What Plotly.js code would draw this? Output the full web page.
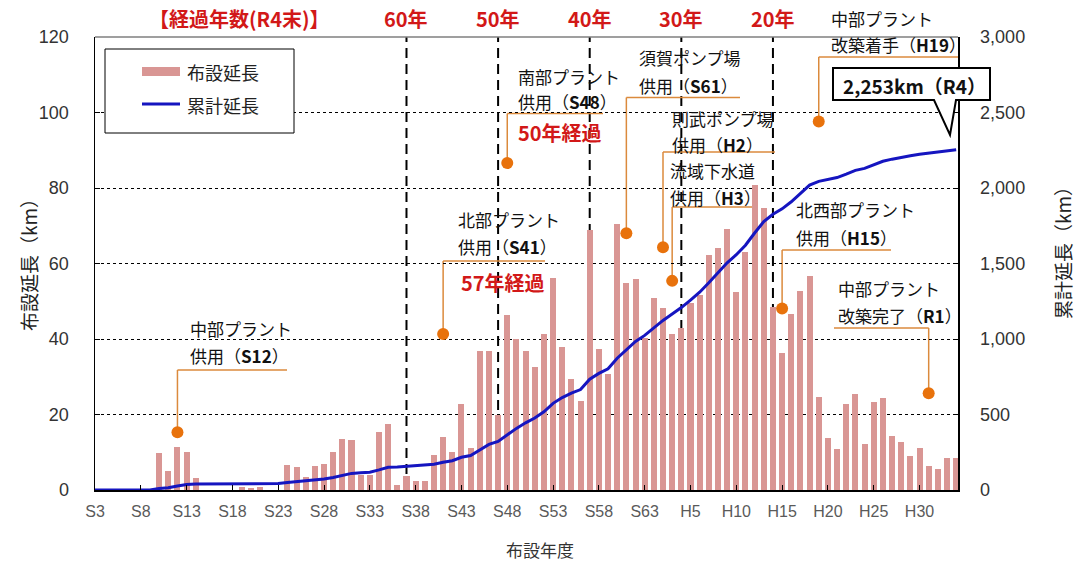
<!DOCTYPE html>
<html>
<head>
<meta charset="utf-8">
<script src="https://cdn.plot.ly/plotly-3.0.1.min.js"></script>
<style>html,body{margin:0;padding:0;background:#fff;}#chart{width:1077px;height:564px;}</style>
</head>
<body>
<div id="chart"></div>
<script>
// ---- data ----
const years = [];
for (let y = 1928; y <= 2022; y++) years.push(y);

// 布設延長 (km) per fiscal year, S3 (1928) ... R4 (2022)
const layLength = [
  0, 0, 0, 0, 0, 0, 0,            // S3-S9
  9.8, 5.0, 11.5, 10.2, 3.2,      // S10-S14
  0, 0, 0, 0, 0.9, 0.5, 0.9, 0, 0, // S15-S23
  6.5, 6.1, 3.4, 6.3, 6.9, 10.0, 13.6, 13.3, 3.9, 4.0, // S24-S33
  15.4, 17.5, 1.4, 3.8, 2.4, 2.4, 9.3, 14.0, 10.1, 22.8, // S34-S43
  11.0, 36.7, 36.7, 19.8, 46.3, 40.0, 36.7, 32.5, 41.2, 56.1, // S44-S53
  38.0, 29.3, 23.5, 68.9, 37.4, 30.6, 70.5, 54.8, 55.8, 40.3, // S54-S63
  50.9, 48.3, 41.3, 42.9, 49.5, 51.7, 62.3, 64.0, 69.1, 52.4, // H1-H10
  63.1, 80.8, 74.8, 48.4, 36.4, 46.6, 52.6, 56.7, 24.7, 13.9, // H11-H20
  10.9, 22.8, 25.4, 12.3, 23.2, 24.3, 14.2, 12.6, 9.1, 11.2, // H21-H30
  6.4, 5.5, 8.5, 8.6                                          // R1-R4
];

// 累計延長 (km)
const cumLength = [
  0, 0, 0, 0, 0, 0, 0,
  10, 15, 27, 37, 40,
  40, 40, 40, 40, 41, 42, 43, 43, 43,
  50, 56, 59, 66, 73, 83, 96, 110, 114, 118,
  133, 151, 152, 156, 158, 161, 170, 184, 194, 217,
  228, 265, 302, 322, 368, 408, 445, 477, 518, 574,
  612, 642, 665, 734, 772, 803, 873, 928, 984, 1024,
  1075, 1123, 1165, 1208, 1258, 1310, 1372, 1436, 1505, 1558,
  1621, 1702, 1777, 1826, 1862, 1909, 1962, 2019, 2044, 2058,
  2069, 2092, 2117, 2130, 2153, 2177, 2191, 2204, 2213, 2224,
  2231, 2236, 2245, 2253
];

const tickYears = [1928,1933,1938,1943,1948,1953,1958,1963,1968,1973,1978,1983,1988,1993,1998,2003,2008,2013,2018];
const tickLabels = ['S3','S8','S13','S18','S23','S28','S33','S38','S43','S48','S53','S58','S63','H5','H10','H15','H20','H25','H30'];

// elapsed-years reference lines (R4末)
const elapsedYears = [1962, 1972, 1982, 1992, 2002];
const elapsedLabels = ['60年', '50年', '40年', '30年', '20年'];

// events
const eventYears = [1937, 1966, 1973, 1986, 1990, 1991, 2003, 2007, 2019];
const eventDotY  = [15.3, 41.3, 86.6, 68.0, 64.3, 55.4, 48.1, 97.6, 25.6];
const eventLine1 = ['中部プラント','北部プラント','南部プラント','須賀ポンプ場','則武ポンプ場','流域下水道','北西部プラント','中部プラント','中部プラント'];
const eventLine2 = ['供用（<b>S12</b>）','供用（<b>S41</b>）','供用（<b>S48</b>）','供用（<b>S61</b>）','供用（<b>H2</b>）','供用（<b>H3</b>）','供用（<b>H15</b>）','改築着手（<b>H19</b>）','改築完了（<b>R1</b>）'];

// ---- geometry helpers (layout only) ----
const L = 95, R = 958, T = 37, B = 490, W = 1077, H = 564;
const X0 = 1928, X1 = 2022.2;
const PX = x => (x - L) / (R - L);
const PY = y => (B - y) / (B - T);
const yrPx = yr => L + (yr - X0) / (X1 - X0) * (R - L);

// label layout per event: [textLeft, line1Y, line2Y, hLineY, hLineEnd]
const evLayout = [
  [188, 328, 355, 370, 287],
  [456, 219, 246, 261, 545],
  [516, 76, 102, 113.5, 603],
  [637, 57, 85, 97.5, 740],
  [670, 118, 144, 152, 775],
  [668, 171, 197, 207, 755],
  [794, 210, 237, 250, 891],
  [829, 18, 45, 57, 958],
  [836, 288, 315, 328, 834]
];

const ORANGE = '#E8720C';
const LEAD = '#DB8A3C';
const RED = '#D21818';
const JP = 'Noto Sans CJK JP';

const shapes = [];
const annotations = [];

// top border
shapes.push({type:'line', xref:'paper', yref:'paper', x0:0, x1:1, y0:1, y1:1, line:{color:'#7f7f7f', width:1.5}, layer:'above'});

// elapsed dashed lines + labels
elapsedYears.forEach((yr, i) => {
  shapes.push({type:'line', xref:'x', yref:'paper', x0:yr, x1:yr, y0:0, y1:1,
    line:{color:'#000', width:2, dash:'10px,6px'}, layer:'below'});
  annotations.push({xref:'x', yref:'paper', x:yr, y:PY(18), text:'<b>'+elapsedLabels[i]+'</b>',
    showarrow:false, xanchor:'center', yanchor:'middle', font:{family:JP, size:20, color:RED}});
});
annotations.push({xref:'paper', yref:'paper', x:PX(239), y:PY(18), text:'<b>【経過年数(R4末)】</b>',
  showarrow:false, xanchor:'center', yanchor:'middle', font:{family:JP, size:20, color:RED}});

// event leaders & labels
eventYears.forEach((yr, i) => {
  const [tx, y1, y2, hy, hend] = evLayout[i];
  const dotPxY = B - eventDotY[i] / 120 * (B - T);
  const dx = yrPx(yr);
  shapes.push({type:'line', xref:'paper', yref:'paper', x0:PX(dx), x1:PX(dx), y0:PY(dotPxY), y1:PY(hy),
    line:{color:LEAD, width:1.5}, layer:'below'});
  shapes.push({type:'line', xref:'paper', yref:'paper', x0:PX(dx), x1:PX(hend), y0:PY(hy), y1:PY(hy),
    line:{color:LEAD, width:1.5}, layer:'below'});
  annotations.push({xref:'paper', yref:'paper', x:PX(tx), y:PY(y1), text:eventLine1[i], showarrow:false,
    xanchor:'left', yanchor:'middle', font:{family:JP, size:17, color:'#111'}});
  annotations.push({xref:'paper', yref:'paper', x:PX(tx), y:PY(y2), text:eventLine2[i], showarrow:false,
    xanchor:'left', yanchor:'middle', font:{family:JP, size:17, color:'#111'}});
});

// elapsed notes
annotations.push({xref:'paper', yref:'paper', x:PX(459), y:PY(282), text:'<b>57年経過</b>', showarrow:false,
  xanchor:'left', yanchor:'middle', font:{family:JP, size:20, color:RED}});
annotations.push({xref:'paper', yref:'paper', x:PX(516), y:PY(132), text:'<b>50年経過</b>', showarrow:false,
  xanchor:'left', yanchor:'middle', font:{family:JP, size:20, color:RED}});

// callout
const cp = [[833,68],[990,68],[990,100],[956,100],[950,135],[934,100],[833,100]];
shapes.push({type:'path', xref:'paper', yref:'paper',
  path: 'M ' + cp.map(p => PX(p[0]) + ',' + PY(p[1])).join(' L ') + ' Z',
  fillcolor:'#fff', line:{color:'#000', width:2}, layer:'above'});
annotations.push({xref:'paper', yref:'paper', x:PX(914), y:PY(85), text:'<b>2,253km（R4）</b>', showarrow:false,
  xanchor:'center', yanchor:'middle', font:{family:JP, size:19, color:'#111'}});

// legend (drawn)
shapes.push({type:'rect', xref:'paper', yref:'paper', x0:PX(105), x1:PX(294), y0:PY(49), y1:PY(133),
  fillcolor:'#fff', line:{color:'#000', width:1}, layer:'above'});
shapes.push({type:'rect', xref:'paper', yref:'paper', x0:PX(142), x1:PX(180), y0:PY(67), y1:PY(76),
  fillcolor:'#D99694', line:{width:0}, layer:'above'});
shapes.push({type:'line', xref:'paper', yref:'paper', x0:PX(142), x1:PX(180), y0:PY(104), y1:PY(104),
  line:{color:'#1515C0', width:3}, layer:'above'});
annotations.push({xref:'paper', yref:'paper', x:PX(185), y:PY(72), text:'布設延長', showarrow:false,
  xanchor:'left', yanchor:'middle', font:{family:JP, size:18, color:'#222'}});
annotations.push({xref:'paper', yref:'paper', x:PX(185), y:PY(105), text:'累計延長', showarrow:false,
  xanchor:'left', yanchor:'middle', font:{family:JP, size:18, color:'#222'}});

// axis titles
annotations.push({xref:'paper', yref:'paper', x:PX(28), y:PY(260), text:'布設延長（km）', textangle:-90, showarrow:false,
  xanchor:'center', yanchor:'middle', font:{family:JP, size:19, color:'#222'}});
annotations.push({xref:'paper', yref:'paper', x:PX(1062), y:PY(248), text:'累計延長（km）', textangle:-90, showarrow:false,
  xanchor:'center', yanchor:'middle', font:{family:JP, size:19, color:'#222'}});
annotations.push({xref:'paper', yref:'paper', x:PX(540), y:PY(549), text:'布設年度', showarrow:false,
  xanchor:'center', yanchor:'middle', font:{family:JP, size:17, color:'#333'}});

const traces = [
  {type:'bar', x:years, y:layLength, name:'布設延長', marker:{color:'#D99694'}, width:0.66, hoverinfo:'skip'},
  {type:'scatter', mode:'lines', x:years, y:cumLength, yaxis:'y2', name:'累計延長',
    line:{color:'#1515C0', width:3}, hoverinfo:'skip'},
  {type:'scatter', mode:'markers', x:eventYears, y:eventDotY, marker:{color:ORANGE, size:12}, hoverinfo:'skip'}
];

const layout = {
  width:W, height:H,
  margin:{l:L, r:W-R, t:T, b:H-B, pad:0},
  paper_bgcolor:'#fff', plot_bgcolor:'#fff',
  showlegend:false,
  font:{family:JP},
  bargap:0,
  xaxis:{range:[X0, X1], tickmode:'array', tickvals:tickYears, ticktext:tickLabels,
    ticks:'inside', ticklen:5, tickcolor:'#000', showline:true, linecolor:'#000', linewidth:1.5,
    showgrid:false, zeroline:false, ticklabelstandoff:6,
    tickfont:{family:'Liberation Sans', size:16, color:'#5a5a5a'}},
  yaxis:{range:[0,120], dtick:20, tick0:0, ticks:'inside', ticklen:5, tickcolor:'#000',
    showline:true, linecolor:'#000', linewidth:1.5, zeroline:false,
    showgrid:true, gridcolor:'#000', gridwidth:1, griddash:'dot', ticklabelstandoff:21,
    tickfont:{family:'Liberation Sans', size:18, color:'#333'}},
  yaxis2:{overlaying:'y', side:'right', range:[0,3000], dtick:500, tick0:0, tickformat:',d',
    ticks:'inside', ticklen:5, tickcolor:'#000', showline:true, linecolor:'#000', linewidth:1.5,
    showgrid:false, zeroline:false, ticklabelstandoff:17,
    tickfont:{family:'Liberation Sans', size:18, color:'#333'}},
  shapes:shapes,
  annotations:annotations
};

Plotly.newPlot('chart', traces, layout, {staticPlot:true, displayModeBar:false});
</script>
</body>
</html>
